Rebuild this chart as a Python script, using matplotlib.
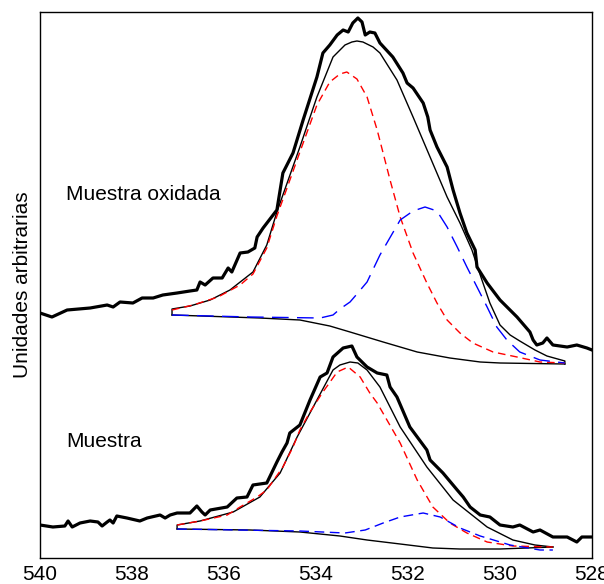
import matplotlib
matplotlib.use("Agg")
import matplotlib.pyplot as plt

plt.rcParams['font.family'] = ['Liberation Sans', 'DejaVu Sans']
plt.rcParams['lines.scale_dashes'] = False

# energia de enlace (eV) y señal (unidades arbitrarias)
# --- muestra oxidada ---
ox_E = [540.00, 539.74, 539.41, 538.91, 538.54, 538.41, 538.26, 537.98, 537.78, 537.54,
        537.33, 537.02, 536.74, 536.59, 536.52, 536.41, 536.24, 536.04, 535.91, 535.83,
        535.65, 535.48, 535.33, 535.28, 535.15, 534.85, 534.72, 534.50, 534.28, 533.98,
        533.85, 533.70, 533.54, 533.41, 533.30, 533.20, 533.09, 533.00, 532.93, 532.83,
        532.72, 532.61, 532.33, 532.11, 532.02, 531.89, 531.67, 531.57, 531.52, 531.37,
        531.15, 531.02, 530.87, 530.72, 530.54, 530.50, 530.28, 530.00, 529.63, 529.35,
        529.28, 529.20, 529.07, 528.98, 528.85, 528.54, 528.33, 528.11, 528.00]
ox_I = [245, 241, 248, 250, 253, 251, 256, 255, 260, 260,
        263, 265, 267, 268, 276, 273, 280, 280, 290, 286,
        305, 306, 310, 321, 330, 348, 385, 405, 438, 481,
        505, 513, 523, 528, 526, 535, 540, 536, 523, 526,
        525, 515, 501, 485, 475, 470, 455, 441, 428, 411,
        391, 368, 345, 325, 308, 291, 275, 258, 241, 226,
        218, 213, 215, 220, 213, 211, 213, 210, 208]

ox_fit_E = [537.13, 537.13, 536.74, 536.30, 535.87, 535.37, 535.07, 534.85, 534.72, 534.35,
            533.98, 533.63, 533.37, 533.22, 533.11, 532.98, 532.76, 532.61, 532.24, 531.89,
            531.52, 531.15, 530.87, 530.61, 530.43, 530.22, 530.00, 529.78, 529.57, 529.24,
            528.98, 528.59, 528.59]
ox_fit_I = [243, 249, 252, 258, 268, 286, 313, 346, 363, 411,
            461, 501, 513, 516, 517, 516, 511, 505, 478, 441,
            401, 361, 335, 308, 283, 255, 233, 223, 217, 208,
            202, 197, 194]

ox_p1_E = [537.13, 536.67, 536.13, 535.65, 535.37, 535.07, 534.85, 534.63, 534.35, 533.98,
           533.70, 533.48, 533.33, 533.11, 532.89, 532.67, 532.39, 532.17, 531.89, 531.59,
           531.37, 531.15, 530.87, 530.59, 530.15, 529.63, 529.13, 528.59]
ox_p1_I = [248, 253, 261, 273, 284, 310, 342, 370, 406, 453,
           476, 484, 486, 479, 461, 428, 378, 341, 305, 275,
           255, 238, 225, 215, 206, 201, 196, 195]

ox_p2_E = [537.13, 535.43, 533.91, 533.63, 533.48, 533.26, 533.11, 532.89, 532.61, 532.17,
           531.89, 531.63, 531.37, 531.15, 530.93, 530.72, 530.50, 530.28, 530.07, 529.85,
           529.57, 529.13, 528.59]
ox_p2_I = [243, 241, 240, 243, 249, 256, 264, 276, 303, 338,
           347, 351, 347, 331, 311, 291, 271, 251, 231, 218,
           206, 198, 195]

ox_bg_E = [537.13, 535.22, 534.35, 533.70, 533.26, 532.54, 531.80, 531.09, 530.43, 530.00, 528.59]
ox_bg_I = [243, 240, 238, 232, 226, 216, 206, 200, 196, 195, 194]

# --- muestra ---
m_E = [540.00, 539.72, 539.46, 539.39, 539.30, 539.13, 538.91, 538.74, 538.65, 538.54,
       538.48, 538.41, 538.33, 538.11, 537.83, 537.67, 537.39, 537.28, 537.17, 537.02,
       536.74, 536.59, 536.48, 536.41, 536.30, 535.93, 535.72, 535.50, 535.37, 535.07,
       534.85, 534.74, 534.63, 534.57, 534.35, 534.13, 533.91, 533.76, 533.63, 533.41,
       533.22, 533.11, 532.89, 532.67, 532.46, 532.39, 532.24, 531.96, 531.59, 531.52,
       531.24, 530.93, 530.80, 530.65, 530.43, 530.22, 530.00, 529.72, 529.57, 529.28,
       529.13, 528.85, 528.54, 528.33, 528.22, 528.00]
m_I = [33, 31, 32, 37, 31, 35, 37, 36, 32, 36,
       38, 35, 42, 40, 37, 40, 43, 40, 43, 45,
       45, 52, 46, 43, 48, 51, 60, 61, 73, 75,
       96, 106, 115, 125, 133, 158, 181, 185, 201, 210,
       212, 201, 191, 185, 183, 171, 161, 131, 108, 98,
       85, 68, 61, 51, 43, 41, 33, 31, 33, 26,
       28, 21, 21, 16, 21, 21]

m_fit_E = [537.02, 537.02, 536.52, 535.80, 535.22, 534.78, 534.41, 533.98, 533.63, 533.48,
           533.26, 533.09, 532.89, 532.61, 532.17, 531.59, 531.02, 530.28, 529.72, 529.24,
           528.85]
m_fit_I = [29, 33, 37, 46, 61, 85, 121, 158, 188, 193,
           196, 195, 188, 171, 131, 91, 58, 31, 18, 13,
           11]

m_p1_E = [537.02, 536.52, 535.93, 535.65, 535.28, 535.07, 534.72, 534.50, 534.35, 534.13,
          533.85, 533.54, 533.30, 533.04, 532.83, 532.67, 532.17, 531.80, 531.46, 531.09,
          530.72, 530.28, 529.72, 528.85]
m_p1_I = [33, 37, 43, 51, 61, 68, 91, 111, 128, 146,
          166, 186, 191, 181, 165, 155, 115, 78, 51, 35,
          25, 16, 12, 11]

m_p2_E = [537.02, 534.35, 533.37, 532.93, 532.54, 532.17, 531.67, 531.30, 530.87, 530.43,
          529.78, 529.13, 528.85]
m_p2_I = [29, 27, 25, 28, 35, 41, 45, 41, 30, 22,
          13, 8, 8]

m_bg_E = [537.02, 535.43, 534.35, 533.48, 532.89, 532.17, 531.46, 530.87, 530.00, 528.85]
m_bg_I = [29, 28, 26, 22, 18, 14, 10, 9, 9, 11]

xticks = [540, 538, 536, 534, 532, 530, 528]

fig = plt.figure(figsize=(6.04, 5.84), dpi=100)
ax = fig.add_axes([40/604, 26/584, 552/604, 546/584])

# espectros medidos
ax.plot(ox_E, ox_I, color='black', lw=2.3, solid_joinstyle='round')
ax.plot(m_E, m_I, color='black', lw=2.3, solid_joinstyle='round')

# ajuste total y fondo
ax.plot(ox_fit_E, ox_fit_I, color='black', lw=1.0)
ax.plot(ox_bg_E, ox_bg_I, color='black', lw=1.0)
ax.plot(m_fit_E, m_fit_I, color='black', lw=1.0)
ax.plot(m_bg_E, m_bg_I, color='black', lw=1.0)

# componentes
ax.plot(ox_p1_E, ox_p1_I, color='red', lw=1.0, dashes=(5.5, 3.5))
ax.plot(ox_p2_E, ox_p2_I, color='blue', lw=1.0, dashes=(12, 6))
ax.plot(m_p1_E, m_p1_I, color='red', lw=1.0, dashes=(5.5, 3.5))
ax.plot(m_p2_E, m_p2_I, color='blue', lw=1.0, dashes=(7, 4))

ax.text(539.43, 358, 'Muestra oxidada', fontsize=15, ha='left', va='baseline')
ax.text(539.43, 111, 'Muestra', fontsize=15, ha='left', va='baseline')

ax.set_xlim(540, 528)
ax.set_ylim(0, 546)
ax.set_xticks(xticks)
ax.set_xticklabels([str(t) for t in xticks])
ax.set_yticks([])
ax.tick_params(axis='x', length=0, pad=5, labelsize=15)
ax.set_ylabel('Unidades arbitrarias', fontsize=15, labelpad=6)
for s in ax.spines.values():
    s.set_linewidth(1.0)

fig.savefig('out.png', dpi=100)
